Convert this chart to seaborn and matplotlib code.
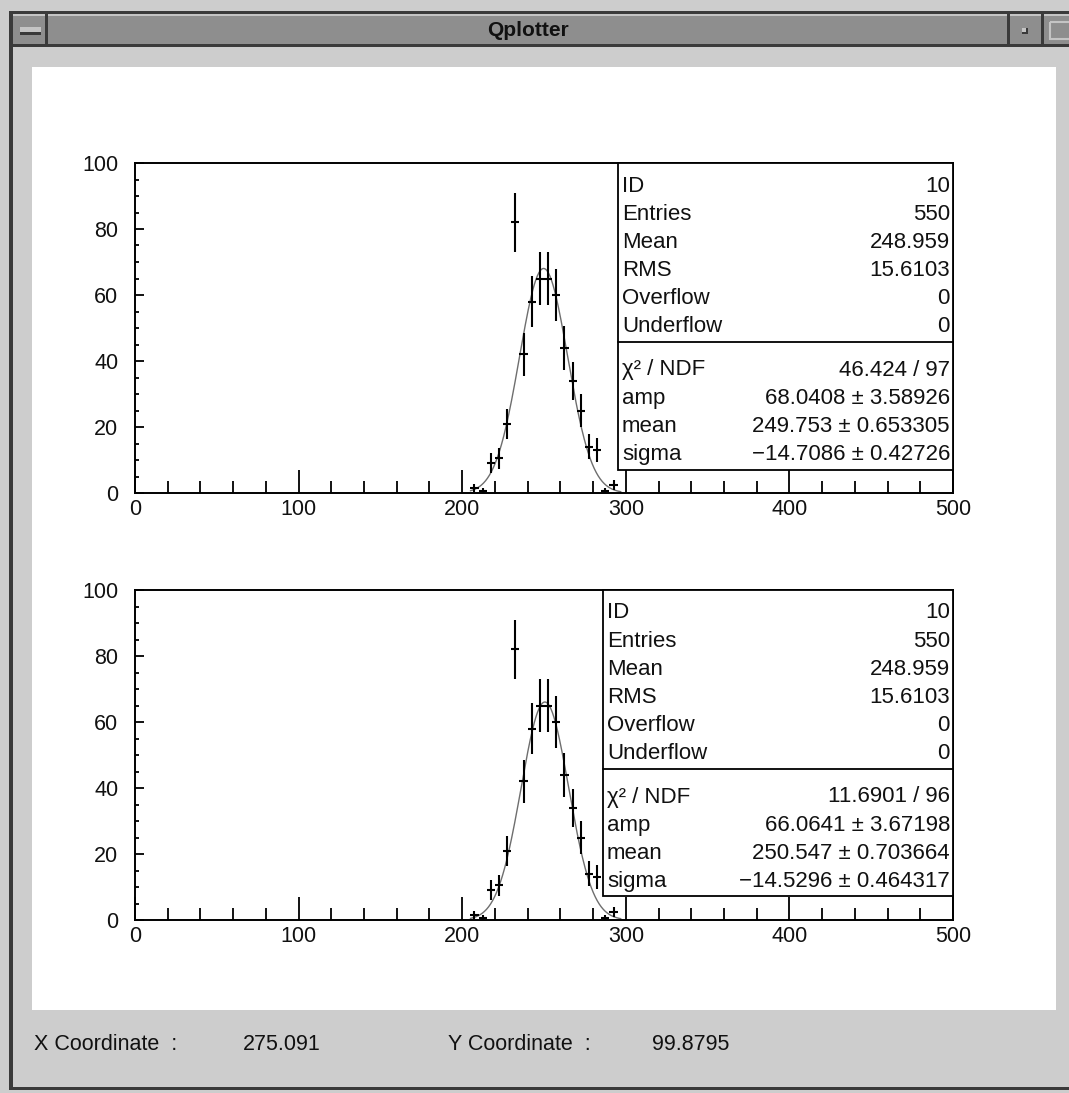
import numpy as np
import pandas as pd
import matplotlib
matplotlib.use("Agg")
import matplotlib.pyplot as plt
from matplotlib.patches import Rectangle
from matplotlib.ticker import MultipleLocator
import seaborn as sns

# ---- histogram contents (bins of width 5 over 0..500, only non-empty bins) ----
bin_centers = [207.5, 212.5, 217.5, 222.5, 227.5, 232.5, 237.5, 242.5, 247.5,
               252.5, 257.5, 262.5, 267.5, 272.5, 277.5, 282.5, 287.5, 292.5]
counts = [1.6, 0.6, 9, 10.5, 21, 82, 42, 58, 65,
          65, 60, 44, 34, 25, 14, 13, 0.6, 2.5]
bin_halfwidth = 2.5

x_ticks = [0, 100, 200, 300, 400, 500]
y_ticks = [0, 20, 40, 60, 80, 100]

stat_labels = ["ID", "Entries", "Mean", "RMS", "Overflow", "Underflow"]
stat_values = ["10", "550", "248.959", "15.6103", "0", "0"]

fit_labels = ["\u03c7\u00b2 / NDF", "amp", "mean", "sigma"]
fit_values_top = ["46.424 / 97", "68.0408 \u00b1 3.58926",
                  "249.753 \u00b1 0.653305", "\u221214.7086 \u00b1 0.42726"]
fit_values_bottom = ["11.6901 / 96", "66.0641 \u00b1 3.67198",
                     "250.547 \u00b1 0.703664", "\u221214.5296 \u00b1 0.464317"]
fit_amp = [68.0408, 66.0641]
fit_mean = [249.753, 250.547]
fit_sigma = [-14.7086, -14.5296]

status_labels = ["X Coordinate  :", "Y Coordinate  :"]
status_values = ["275.091", "99.8795"]
window_title = "Qplotter"

# ---- figure ----
W, H = 1069, 1093
sns.set_theme(style="white")
plt.rcParams["font.family"] = ["Liberation Sans", "DejaVu Sans"]
fig = plt.figure(figsize=(W / 100, H / 100), dpi=100)

def px_rect(left, top, right, bottom):
    return [left / W, 1 - bottom / H, (right - left) / W, (bottom - top) / H]

def box(ax, x0, y0, x1, y1, color, **kw):
    ax.add_patch(Rectangle((x0, y0), x1 - x0, y1 - y0, facecolor=color,
                           edgecolor=kw.pop("edgecolor", "none"), **kw))

# window chrome (pixel space, y downwards)
bg = fig.add_axes([0, 0, 1, 1], zorder=-5)
bg.set_xlim(0, W); bg.set_ylim(H, 0); bg.axis("off")
GRAY, DARK, MID, LIGHT = "#cdcdcd", "#3a3a3a", "#8e8e8e", "#c4c4c4"
box(bg, 0, 0, W, H, GRAY)
box(bg, 9, 11, W, 14, DARK)
box(bg, 9, 11, 13, 1090, DARK)
box(bg, 13, 14, W, 45, MID)
box(bg, 13, 14, W, 16, LIGHT)
box(bg, 13, 44, W, 47, DARK)
box(bg, 45, 14, 48, 45, DARK)
box(bg, 1007, 14, 1010, 45, DARK)
box(bg, 1041, 14, 1044, 45, DARK)
box(bg, 20, 27, 41, 34, LIGHT)
box(bg, 20, 32, 41, 35, DARK)
box(bg, 1022, 28, 1028, 34, DARK)
box(bg, 1022, 28, 1026, 32, LIGHT)
box(bg, 1050, 22, 1075, 39, "none", edgecolor=LIGHT, linewidth=1.5)
box(bg, 32, 67, 1056, 1010, "white")
box(bg, 9, 1087, W, 1090, DARK)
bg.text((48 + 1007) / 2, 30, window_title, ha="center", va="center",
        fontsize=15, fontweight="bold", color="#111111",
        family=["Liberation Sans Narrow", "Liberation Sans"])

# ---- histogram panels ----
panels = [
    dict(rect=px_rect(135, 163, 953, 493), box=(618, 163, 953, 470), div=342,
         rows0=186, fit0=370, values=fit_values_top),
    dict(rect=px_rect(135, 590, 953, 920), box=(603, 590, 953, 896), div=769,
         rows0=613, fit0=797, values=fit_values_bottom),
]

fg = fig.add_axes([0, 0, 1, 1], zorder=5)
fg.set_xlim(0, W); fg.set_ylim(H, 0); fg.axis("off")

hist = pd.DataFrame({"x": bin_centers, "n": counts})
hist["err"] = np.sqrt(hist["n"])

for i, p in enumerate(panels):
    ax = fig.add_axes(p["rect"])
    ax.set_facecolor("white")
    xfit = np.linspace(205, 297, 300)
    yfit = fit_amp[i] * np.exp(-0.5 * ((xfit - fit_mean[i]) / fit_sigma[i]) ** 2)
    sns.lineplot(x=xfit, y=yfit, ax=ax, color="#6e6e6e", linewidth=1.0)
    ax.errorbar(hist["x"], hist["n"], xerr=bin_halfwidth, yerr=hist["err"],
                fmt="none", ecolor="black", elinewidth=1.5, capsize=0, zorder=3)
    ax.set_xlim(0, 500); ax.set_ylim(0, 100)
    ax.set_xticks(x_ticks); ax.set_yticks(y_ticks)
    ax.xaxis.set_minor_locator(MultipleLocator(20))
    ax.yaxis.set_minor_locator(MultipleLocator(5))
    ax.set_xlabel(""); ax.set_ylabel("")
    for s in ax.spines.values():
        s.set_visible(True); s.set_color("black"); s.set_linewidth(1.4)
    ax.tick_params(axis="x", which="major", direction="in", length=16.5,
                   width=1.3, color="black", labelsize=15.5, pad=4, top=False, bottom=True)
    ax.tick_params(axis="x", which="minor", direction="in", length=8.6,
                   width=1.3, color="black", top=False, bottom=True)
    ax.tick_params(axis="y", which="major", direction="in", length=6.5,
                   width=1.3, color="black", labelsize=15.5, pad=12, left=True, right=False)
    ax.tick_params(axis="y", which="minor", direction="in", length=3.2,
                   width=1.3, color="black", left=True, right=False)
    for lab in ax.get_xticklabels() + ax.get_yticklabels():
        lab.set_color("#111111")

    # statistics box
    x0, y0, x1, y1 = p["box"]
    box(fg, x0, y0, x1, y1, "white", edgecolor="black", linewidth=1.3)
    fg.plot([x0, x1], [p["div"], p["div"]], color="black", linewidth=1.3)
    for k, (lab, val) in enumerate(zip(stat_labels, stat_values)):
        yy = p["rows0"] + 28.1 * k
        fg.text(x0 + 4, yy, lab, ha="left", va="center", fontsize=16, color="#111111")
        fg.text(x1 - 3, yy, val, ha="right", va="center", fontsize=16, color="#111111")
    for k, (lab, val) in enumerate(zip(fit_labels, p["values"])):
        yy = p["fit0"] + 28.1 * k
        fg.text(x0 + 4, yy, lab, ha="left", va="center", fontsize=16, color="#111111")
        fg.text(x1 - 3, yy, val, ha="right", va="center", fontsize=16, color="#111111")

# status line under the canvas
for lab, val, xl, xv in zip(status_labels, status_values, [34, 448], [243, 652]):
    fg.text(xl, 1044, lab, ha="left", va="center", fontsize=15.5, color="#111111")
    fg.text(xv, 1044, val, ha="left", va="center", fontsize=15.5, color="#111111")

fig.savefig("out.png", dpi=100)
